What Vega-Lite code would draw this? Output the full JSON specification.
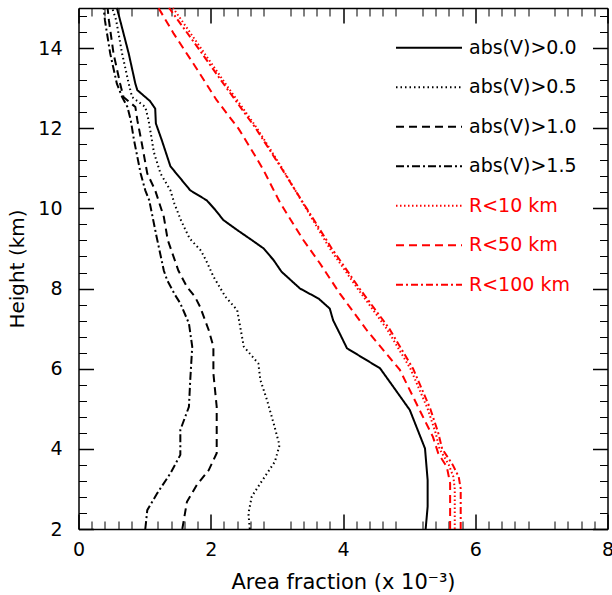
{
  "$schema": "https://vega.github.io/schema/vega-lite/v6.json",
  "width": 529,
  "height": 521,
  "autosize": {"type": "none"},
  "padding": {"left": 78.5, "top": 8, "right": 4.5, "bottom": 66},
  "background": "white",
  "config": {"view": {"stroke": null}, "font": "DejaVu Sans"},
  "data": {"values": [
    {"s":"abs(V)>0.0","x":0.58,"h":15.0},{"s":"abs(V)>0.0","x":0.63,"h":14.69},{"s":"abs(V)>0.0","x":0.76,"h":13.86},{"s":"abs(V)>0.0","x":0.86,"h":13.11},{"s":"abs(V)>0.0","x":0.89,"h":12.95},{"s":"abs(V)>0.0","x":1.08,"h":12.68},{"s":"abs(V)>0.0","x":1.16,"h":12.49},{"s":"abs(V)>0.0","x":1.17,"h":12.12},{"s":"abs(V)>0.0","x":1.26,"h":11.7},{"s":"abs(V)>0.0","x":1.39,"h":11.05},{"s":"abs(V)>0.0","x":1.49,"h":10.85},{"s":"abs(V)>0.0","x":1.69,"h":10.45},{"s":"abs(V)>0.0","x":1.94,"h":10.2},{"s":"abs(V)>0.0","x":2.07,"h":9.96},{"s":"abs(V)>0.0","x":2.19,"h":9.71},{"s":"abs(V)>0.0","x":2.40,"h":9.46},{"s":"abs(V)>0.0","x":2.62,"h":9.21},{"s":"abs(V)>0.0","x":2.80,"h":9.0},{"s":"abs(V)>0.0","x":2.95,"h":8.71},{"s":"abs(V)>0.0","x":3.07,"h":8.42},{"s":"abs(V)>0.0","x":3.35,"h":8.0},{"s":"abs(V)>0.0","x":3.63,"h":7.75},{"s":"abs(V)>0.0","x":3.80,"h":7.5},{"s":"abs(V)>0.0","x":3.85,"h":7.21},{"s":"abs(V)>0.0","x":3.95,"h":6.88},{"s":"abs(V)>0.0","x":4.06,"h":6.51},{"s":"abs(V)>0.0","x":4.56,"h":6.01},{"s":"abs(V)>0.0","x":4.76,"h":5.55},{"s":"abs(V)>0.0","x":5.01,"h":4.97},{"s":"abs(V)>0.0","x":5.24,"h":4.01},{"s":"abs(V)>0.0","x":5.28,"h":3.22},{"s":"abs(V)>0.0","x":5.28,"h":2.56},{"s":"abs(V)>0.0","x":5.25,"h":2.0},
    {"s":"abs(V)>0.5","x":0.51,"h":15.0},{"s":"abs(V)>0.5","x":0.57,"h":14.69},{"s":"abs(V)>0.5","x":0.66,"h":13.86},{"s":"abs(V)>0.5","x":0.76,"h":13.11},{"s":"abs(V)>0.5","x":0.81,"h":12.78},{"s":"abs(V)>0.5","x":1.01,"h":12.53},{"s":"abs(V)>0.5","x":1.06,"h":12.2},{"s":"abs(V)>0.5","x":1.11,"h":11.7},{"s":"abs(V)>0.5","x":1.14,"h":11.4},{"s":"abs(V)>0.5","x":1.24,"h":10.87},{"s":"abs(V)>0.5","x":1.39,"h":10.45},{"s":"abs(V)>0.5","x":1.45,"h":10.12},{"s":"abs(V)>0.5","x":1.55,"h":9.7},{"s":"abs(V)>0.5","x":1.68,"h":9.25},{"s":"abs(V)>0.5","x":1.85,"h":8.95},{"s":"abs(V)>0.5","x":1.93,"h":8.7},{"s":"abs(V)>0.5","x":2.04,"h":8.3},{"s":"abs(V)>0.5","x":2.22,"h":7.8},{"s":"abs(V)>0.5","x":2.40,"h":7.46},{"s":"abs(V)>0.5","x":2.45,"h":7.0},{"s":"abs(V)>0.5","x":2.50,"h":6.55},{"s":"abs(V)>0.5","x":2.72,"h":6.13},{"s":"abs(V)>0.5","x":2.75,"h":5.72},{"s":"abs(V)>0.5","x":2.85,"h":5.22},{"s":"abs(V)>0.5","x":2.95,"h":4.64},{"s":"abs(V)>0.5","x":3.04,"h":4.09},{"s":"abs(V)>0.5","x":2.97,"h":3.68},{"s":"abs(V)>0.5","x":2.75,"h":3.14},{"s":"abs(V)>0.5","x":2.62,"h":2.81},{"s":"abs(V)>0.5","x":2.57,"h":2.39},{"s":"abs(V)>0.5","x":2.59,"h":2.0},
    {"s":"abs(V)>1.0","x":0.44,"h":15.0},{"s":"abs(V)>1.0","x":0.46,"h":14.69},{"s":"abs(V)>1.0","x":0.53,"h":13.86},{"s":"abs(V)>1.0","x":0.63,"h":13.11},{"s":"abs(V)>1.0","x":0.68,"h":12.78},{"s":"abs(V)>1.0","x":0.86,"h":12.53},{"s":"abs(V)>1.0","x":0.89,"h":12.2},{"s":"abs(V)>1.0","x":0.96,"h":11.6},{"s":"abs(V)>1.0","x":1.04,"h":10.87},{"s":"abs(V)>1.0","x":1.16,"h":10.45},{"s":"abs(V)>1.0","x":1.29,"h":9.79},{"s":"abs(V)>1.0","x":1.35,"h":9.21},{"s":"abs(V)>1.0","x":1.51,"h":8.45},{"s":"abs(V)>1.0","x":1.64,"h":8.04},{"s":"abs(V)>1.0","x":1.76,"h":7.8},{"s":"abs(V)>1.0","x":1.84,"h":7.54},{"s":"abs(V)>1.0","x":1.97,"h":6.96},{"s":"abs(V)>1.0","x":2.04,"h":6.55},{"s":"abs(V)>1.0","x":2.04,"h":5.88},{"s":"abs(V)>1.0","x":2.09,"h":5.05},{"s":"abs(V)>1.0","x":2.09,"h":3.89},{"s":"abs(V)>1.0","x":1.97,"h":3.47},{"s":"abs(V)>1.0","x":1.79,"h":3.10},{"s":"abs(V)>1.0","x":1.64,"h":2.68},{"s":"abs(V)>1.0","x":1.57,"h":2.0},
    {"s":"abs(V)>1.5","x":0.38,"h":15.0},{"s":"abs(V)>1.5","x":0.40,"h":14.69},{"s":"abs(V)>1.5","x":0.48,"h":13.86},{"s":"abs(V)>1.5","x":0.58,"h":13.11},{"s":"abs(V)>1.5","x":0.66,"h":12.78},{"s":"abs(V)>1.5","x":0.74,"h":12.53},{"s":"abs(V)>1.5","x":0.79,"h":12.2},{"s":"abs(V)>1.5","x":0.84,"h":11.7},{"s":"abs(V)>1.5","x":0.94,"h":10.87},{"s":"abs(V)>1.5","x":1.01,"h":10.45},{"s":"abs(V)>1.5","x":1.07,"h":10.2},{"s":"abs(V)>1.5","x":1.18,"h":9.3},{"s":"abs(V)>1.5","x":1.29,"h":8.45},{"s":"abs(V)>1.5","x":1.34,"h":8.21},{"s":"abs(V)>1.5","x":1.46,"h":7.84},{"s":"abs(V)>1.5","x":1.54,"h":7.63},{"s":"abs(V)>1.5","x":1.67,"h":7.13},{"s":"abs(V)>1.5","x":1.72,"h":6.55},{"s":"abs(V)>1.5","x":1.69,"h":5.72},{"s":"abs(V)>1.5","x":1.67,"h":5.05},{"s":"abs(V)>1.5","x":1.54,"h":4.47},{"s":"abs(V)>1.5","x":1.54,"h":3.85},{"s":"abs(V)>1.5","x":1.39,"h":3.39},{"s":"abs(V)>1.5","x":1.19,"h":2.89},{"s":"abs(V)>1.5","x":1.04,"h":2.47},{"s":"abs(V)>1.5","x":1.01,"h":2.0},
    {"s":"R<10 km","x":1.43,"h":15.0},{"s":"R<10 km","x":1.85,"h":14.0},{"s":"R<10 km","x":2.27,"h":13.0},{"s":"R<10 km","x":2.70,"h":12.0},{"s":"R<10 km","x":3.08,"h":11.0},{"s":"R<10 km","x":3.44,"h":10.0},{"s":"R<10 km","x":3.80,"h":9.0},{"s":"R<10 km","x":4.22,"h":8.0},{"s":"R<10 km","x":4.66,"h":7.0},{"s":"R<10 km","x":5.02,"h":6.0},{"s":"R<10 km","x":5.28,"h":5.0},{"s":"R<10 km","x":5.40,"h":4.4},{"s":"R<10 km","x":5.46,"h":4.0},{"s":"R<10 km","x":5.60,"h":3.6},{"s":"R<10 km","x":5.67,"h":3.3},{"s":"R<10 km","x":5.69,"h":3.0},{"s":"R<10 km","x":5.69,"h":2.0},
    {"s":"R<50 km","x":1.21,"h":15.0},{"s":"R<50 km","x":1.44,"h":14.36},{"s":"R<50 km","x":1.77,"h":13.53},{"s":"R<50 km","x":2.09,"h":12.70},{"s":"R<50 km","x":2.42,"h":11.99},{"s":"R<50 km","x":2.65,"h":11.37},{"s":"R<50 km","x":2.80,"h":10.95},{"s":"R<50 km","x":3.03,"h":10.2},{"s":"R<50 km","x":3.15,"h":9.87},{"s":"R<50 km","x":3.40,"h":9.21},{"s":"R<50 km","x":3.65,"h":8.63},{"s":"R<50 km","x":3.95,"h":7.88},{"s":"R<50 km","x":4.36,"h":6.96},{"s":"R<50 km","x":4.86,"h":5.97},{"s":"R<50 km","x":5.11,"h":5.13},{"s":"R<50 km","x":5.36,"h":4.30},{"s":"R<50 km","x":5.44,"h":3.89},{"s":"R<50 km","x":5.57,"h":3.55},{"s":"R<50 km","x":5.62,"h":3.14},{"s":"R<50 km","x":5.62,"h":2.0},
    {"s":"R<100 km","x":1.37,"h":15.0},{"s":"R<100 km","x":1.81,"h":14.0},{"s":"R<100 km","x":2.24,"h":13.0},{"s":"R<100 km","x":2.68,"h":12.0},{"s":"R<100 km","x":3.07,"h":11.0},{"s":"R<100 km","x":3.45,"h":10.0},{"s":"R<100 km","x":3.83,"h":9.0},{"s":"R<100 km","x":4.25,"h":8.0},{"s":"R<100 km","x":4.70,"h":7.0},{"s":"R<100 km","x":5.06,"h":6.0},{"s":"R<100 km","x":5.32,"h":5.0},{"s":"R<100 km","x":5.44,"h":4.4},{"s":"R<100 km","x":5.50,"h":4.0},{"s":"R<100 km","x":5.66,"h":3.6},{"s":"R<100 km","x":5.75,"h":3.3},{"s":"R<100 km","x":5.78,"h":3.0},{"s":"R<100 km","x":5.78,"h":2.0}
  ]},
  "encoding": {
    "order": {"field": "h", "type": "quantitative"},
    "color": {
      "field": "s", "type": "nominal",
      "scale": {"domain": ["abs(V)>0.0","abs(V)>0.5","abs(V)>1.0","abs(V)>1.5","R<10 km","R<50 km","R<100 km"],
                "range": ["#000000","#000000","#000000","#000000","#ff0000","#ff0000","#ff0000"]},
      "legend": {
        "orient": "none", "legendX": 333, "legendY": 22.2, "padding": 0,
        "title": null, "symbolType": "M-2,0H2", "symbolSize": 1089, "symbolStrokeWidth": 2,
        "rowPadding": 11.5, "labelOffset": 22.5, "labelFont": "DejaVu Sans", "labelFontSize": 19,
        "labelColor": {"expr": "indexof(datum.label, 'R<') === 0 ? '#ff0000' : '#000000'"}
      }
    },
    "strokeDash": {
      "field": "s", "type": "nominal",
      "scale": {"domain": ["abs(V)>0.0","abs(V)>0.5","abs(V)>1.0","abs(V)>1.5","R<10 km","R<50 km","R<100 km"],
                "range": [[1,0],[1.5,3],[8,5],[8,3,2,3],[1.5,2.5],[8,5],[7,3,2,3]]},
      "legend": {
        "orient": "none", "legendX": 333, "legendY": 22.2, "padding": 0,
        "title": null, "symbolType": "M-2,0H2", "symbolSize": 1089, "symbolStrokeWidth": 2,
        "rowPadding": 11.5, "labelOffset": 22.5, "labelFont": "DejaVu Sans", "labelFontSize": 19,
        "labelColor": {"expr": "indexof(datum.label, 'R<') === 0 ? '#ff0000' : '#000000'"}
      }
    },
    "strokeWidth": {
      "field": "s", "type": "nominal", "legend": null,
      "scale": {"domain": ["abs(V)>0.0","abs(V)>0.5","abs(V)>1.0","abs(V)>1.5","R<10 km","R<50 km","R<100 km"],
                "range": [2,2,2,2,1.2,1.2,1.2]}
    }
  },
  "layer": [
    {
      "transform": [{"filter": {"field": "s", "oneOf": ["abs(V)>0.0","abs(V)>0.5"]}}],
      "mark": {"type": "line"},
      "encoding": {
        "x": {"field": "x", "type": "quantitative", "scale": {"domain": [0, 8], "nice": false, "zero": false},
              "axis": {"orient": "bottom", "values": [0,2,4,6,8], "tickSize": -15, "tickWidth": 1.5, "tickColor": "black",
                       "domain": true, "domainColor": "black", "domainWidth": 1.5, "grid": false,
                       "labelFontSize": 19, "labelColor": "black", "labelPadding": 26, "labelFlush": false,
                       "title": "Area fraction (x 10⁻³)", "titleFontSize": 21, "titleFontWeight": "normal", "titleColor": "black", "titlePadding": 12}},
        "y": {"field": "h", "type": "quantitative", "scale": {"domain": [2, 15], "nice": false, "zero": false},
              "axis": {"orient": "left", "values": [2,4,6,8,10,12,14], "tickSize": -15, "tickWidth": 1.5, "tickColor": "black",
                       "domain": true, "domainColor": "black", "domainWidth": 1.5, "grid": false,
                       "labelFontSize": 19, "labelColor": "black", "labelPadding": 31.5, "labelFlush": false,
                       "title": "Height (km)", "titleFontSize": 20, "titleFontWeight": "normal", "titleColor": "black", "titlePadding": 10}}
      }
    },
    {
      "transform": [{"filter": {"field": "s", "oneOf": ["abs(V)>1.0","abs(V)>1.5"]}}],
      "mark": {"type": "line"},
      "encoding": {
        "x": {"field": "x", "type": "quantitative",
              "axis": {"orient": "top", "values": [0,2,4,6,8], "tickSize": -15, "tickWidth": 1.5, "tickColor": "black",
                       "domain": true, "domainColor": "black", "domainWidth": 1.5, "grid": false, "labels": false, "title": null}},
        "y": {"field": "h", "type": "quantitative",
              "axis": {"orient": "right", "values": [2,4,6,8,10,12,14], "tickSize": -15, "tickWidth": 1.5, "tickColor": "black",
                       "domain": true, "domainColor": "black", "domainWidth": 1.5, "grid": false, "labels": false, "title": null}}
      }
    },
    {
      "transform": [{"filter": {"field": "s", "oneOf": ["R<10 km"]}}],
      "mark": {"type": "line"},
      "encoding": {
        "x": {"field": "x", "type": "quantitative",
              "axis": {"orient": "bottom", "values": [0.2,0.4,0.6,0.8,1.2,1.4,1.6,1.8,2.2,2.4,2.6,2.8,3.2,3.4,3.6,3.8,4.2,4.4,4.6,4.8,5.2,5.4,5.6,5.8,6.2,6.4,6.6,6.8,7.2,7.4,7.6,7.8],
                       "tickSize": -8, "tickWidth": 1, "tickColor": "black", "domain": false, "grid": false, "labels": false, "title": null}},
        "y": {"field": "h", "type": "quantitative",
              "axis": {"orient": "left", "values": [2.4,2.8,3.2,3.6,4.4,4.8,5.2,5.6,6.4,6.8,7.2,7.6,8.4,8.8,9.2,9.6,10.4,10.8,11.2,11.6,12.4,12.8,13.2,13.6,14.4,14.8],
                       "tickSize": -8, "tickWidth": 1, "tickColor": "black", "domain": false, "grid": false, "labels": false, "title": null}}
      }
    },
    {
      "transform": [{"filter": {"field": "s", "oneOf": ["R<50 km","R<100 km"]}}],
      "mark": {"type": "line"},
      "encoding": {
        "x": {"field": "x", "type": "quantitative",
              "axis": {"orient": "top", "values": [0.2,0.4,0.6,0.8,1.2,1.4,1.6,1.8,2.2,2.4,2.6,2.8,3.2,3.4,3.6,3.8,4.2,4.4,4.6,4.8,5.2,5.4,5.6,5.8,6.2,6.4,6.6,6.8,7.2,7.4,7.6,7.8],
                       "tickSize": -8, "tickWidth": 1, "tickColor": "black", "domain": false, "grid": false, "labels": false, "title": null}},
        "y": {"field": "h", "type": "quantitative",
              "axis": {"orient": "right", "values": [2.4,2.8,3.2,3.6,4.4,4.8,5.2,5.6,6.4,6.8,7.2,7.6,8.4,8.8,9.2,9.6,10.4,10.8,11.2,11.6,12.4,12.8,13.2,13.6,14.4,14.8],
                       "tickSize": -8, "tickWidth": 1, "tickColor": "black", "domain": false, "grid": false, "labels": false, "title": null}}
      }
    }
  ],
  "resolve": {"axis": {"x": "independent", "y": "independent"}}
}
